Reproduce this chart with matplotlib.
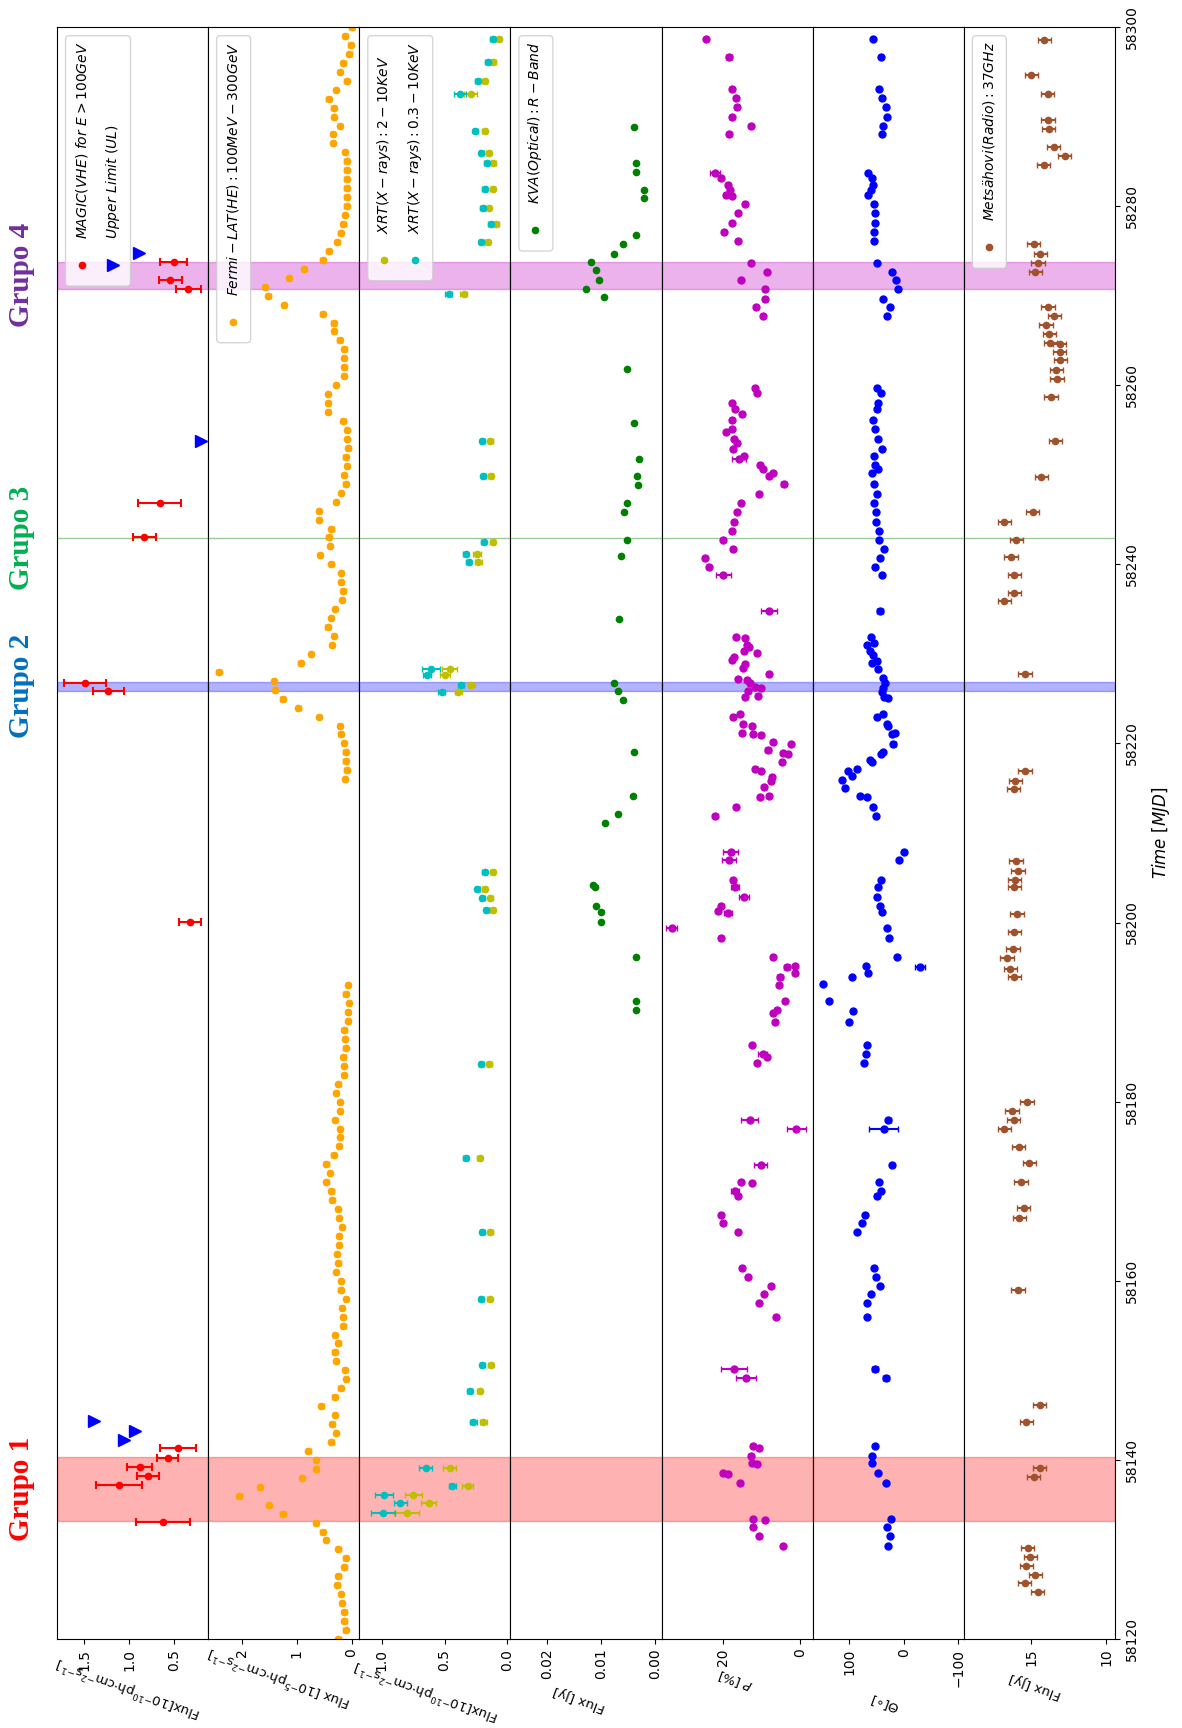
import numpy as np
import matplotlib
matplotlib.use("Agg")
import matplotlib.pyplot as plt
from matplotlib.patches import FancyBboxPatch
from matplotlib.transforms import blended_transform_factory

# ---------------- data (MJD, value) ----------------
# MAGIC VHE flux [1e-10 ph cm-2 s-1]
magic_t = [58273.8, 58271.8, 58270.8, 58246.8, 58243.0, 58226.8, 58225.9, 58200.1,
           58141.3, 58140.2, 58139.2, 58138.2, 58137.2, 58133.1]
magic_f = [0.50, 0.54, 0.34, 0.66, 0.83, 1.49, 1.23, 0.32, 0.45, 0.57, 0.88, 0.79, 1.11, 0.62]
magic_e = [0.15, 0.13, 0.14, 0.24, 0.125, 0.23, 0.17, 0.12, 0.20, 0.115, 0.14, 0.12, 0.26, 0.30]
ul_t = [58274.8, 58253.8, 58144.3, 58143.2, 58142.2]
ul_f = [0.89, 0.20, 1.385, 0.93, 1.05]

# Fermi-LAT daily flux [1e-5 ph cm-2 s-1]
fermi_t1 = np.arange(58300, 58215, -1)
fermi_f1 = [0.00, 0.12, 0.02, 0.04, 0.15, 0.21, 0.09, 0.29, 0.42, 0.33,
            0.32, 0.21, 0.34, 0.34, 0.12, 0.09, 0.09, 0.09, 0.09, 0.09,
            0.09, 0.12, 0.15, 0.20, 0.26, 0.42, 0.53, 0.87, 1.14, 1.58,
            1.52, 1.24, 0.53, 0.33, 0.32, 0.22, 0.13, 0.14, 0.13, 0.14,
            0.28, 0.43, 0.43, 0.43, 0.15, 0.08, 0.08, 0.06, 0.11, 0.08,
            0.14, 0.11, 0.19, 0.29, 0.60, 0.60, 0.37, 0.42, 0.40, 0.58,
            0.37, 0.19, 0.19, 0.15, 0.18, 0.30, 0.38, 0.44, 0.32, 0.36,
            0.74, 0.93, 2.43, 1.42, 1.40, 1.26, 0.97, 0.60, 0.21, 0.20,
            0.14, 0.11, 0.11, 0.09, 0.12]
fermi_t2 = np.arange(58193, 58119, -1)
fermi_f2 = [0.07, 0.11, 0.05, 0.07, 0.07, 0.13, 0.12, 0.11, 0.15, 0.14,
            0.14, 0.24, 0.28, 0.21, 0.21, 0.30, 0.21, 0.21, 0.23, 0.33,
            0.46, 0.40, 0.46, 0.37, 0.35, 0.25, 0.23, 0.17, 0.23, 0.23,
            0.27, 0.24, 0.28, 0.19, 0.20, 0.10, 0.17, 0.16, 0.15, 0.30,
            0.24, 0.31, 0.28, 0.12, 0.10, 0.20, 0.31, 0.55, 0.30, 0.35,
            0.29, 0.37, 0.79, 0.65, 0.65, 0.91, 1.67, 2.05, 1.51, 1.26,
            0.65, 0.53, 0.47, 0.24, 0.11, 0.13, 0.24, 0.26, 0.19, 0.17,
            0.13, 0.13, 0.11, 0.24]

# Swift-XRT flux [1e-10 ph cm-2 s-1]
xrt_t = [58298.7, 58296.1, 58294.0, 58292.5, 58288.4, 58285.9, 58284.8, 58281.9, 58279.8,
         58278.0, 58276.0, 58270.2, 58253.8, 58249.9, 58242.5, 58241.1, 58240.3, 58228.3,
         58227.6, 58226.5, 58225.8, 58205.6, 58203.8, 58202.7, 58201.4, 58184.2, 58173.7,
         58165.4, 58158.0, 58150.6, 58147.7, 58144.2, 58139.1, 58137.1, 58136.1, 58135.2,
         58134.1]
xrt_soft = [0.117, 0.157, 0.234, 0.378, 0.255, 0.209, 0.163, 0.178, 0.194, 0.132, 0.209,
            0.468, 0.20, 0.19, 0.188, 0.332, 0.308, 0.609, 0.64, 0.369, 0.523, 0.178, 0.24,
            0.20, 0.169, 0.209, 0.332, 0.20, 0.209, 0.20, 0.30, 0.27, 0.65, 0.437, 0.985,
            0.852, 0.99]
xrt_soft_e = [0.02, 0.02, 0.02, 0.05, 0.02, 0.02, 0.02, 0.02, 0.02, 0.02, 0.02,
              0.03, 0.02, 0.02, 0.02, 0.02, 0.02, 0.07, 0.03, 0.02, 0.03, 0.02, 0.02,
              0.02, 0.02, 0.02, 0.02, 0.02, 0.02, 0.02, 0.02, 0.03, 0.05, 0.03, 0.07,
              0.055, 0.095]
xrt_hard = [0.068, 0.111, 0.178, 0.292, 0.178, 0.148, 0.111, 0.117, 0.148, 0.086, 0.154,
            0.348, 0.135, 0.13, 0.117, 0.24, 0.23, 0.46, 0.50, 0.286, 0.39, 0.117, 0.178,
            0.135, 0.117, 0.142, 0.218, 0.135, 0.138, 0.13, 0.218, 0.19, 0.46, 0.317, 0.748,
            0.625, 0.80]
xrt_hard_e = [0.02, 0.02, 0.02, 0.05, 0.02, 0.02, 0.02, 0.02, 0.02, 0.02, 0.02,
              0.03, 0.02, 0.02, 0.02, 0.03, 0.03, 0.06, 0.04, 0.03, 0.03, 0.02, 0.02,
              0.02, 0.02, 0.02, 0.02, 0.02, 0.02, 0.02, 0.02, 0.03, 0.055, 0.045, 0.07,
              0.06, 0.10]

# KVA optical R-band flux [Jy]
kva_t = [58288.8, 58284.8, 58283.8, 58281.8, 58280.9, 58276.8, 58275.8, 58274.7, 58273.8,
         58272.9, 58271.8, 58270.8, 58269.9, 58261.8, 58255.8, 58251.8, 58249.9, 58248.9,
         58246.9, 58245.8, 58242.7, 58240.9, 58233.9, 58226.8, 58225.9, 58224.8, 58219.0,
         58214.1, 58212.1, 58211.1, 58204.2, 58204.0, 58201.9, 58201.2, 58200.1, 58196.2,
         58191.2, 58190.2]
kva_f = [0.0039, 0.0036, 0.0036, 0.0020, 0.0020, 0.0035, 0.0060, 0.0076, 0.0119, 0.0109,
         0.0104, 0.0127, 0.0095, 0.0051, 0.0039, 0.0030, 0.0034, 0.0032, 0.0051, 0.0058,
         0.0051, 0.0063, 0.0067, 0.0076, 0.0069, 0.0060, 0.0039, 0.0041, 0.0069, 0.0093,
         0.0114, 0.0111, 0.0109, 0.0100, 0.0100, 0.0036, 0.0036, 0.0036]

# optical polarization degree [%]
pol_t = [58298.7, 58296.7, 58293.1, 58292.1, 58291.1, 58290.0, 58289.0, 58288.1, 58283.7,
         58283.1, 58282.4, 58281.8, 58281.2, 58281.1, 58280.2, 58279.2, 58278.1, 58277.1,
         58276.1, 58273.7, 58272.6, 58271.7, 58270.7, 58269.6, 58268.7, 58267.7, 58259.7,
         58259.1, 58258.0, 58257.3, 58256.8, 58256.1, 58255.1, 58254.8, 58254.0, 58253.6,
         58252.9, 58252.1, 58251.8, 58251.1, 58250.7, 58250.2, 58249.9, 58249.0, 58247.8,
         58246.8, 58245.8, 58244.7, 58243.7, 58242.7, 58241.7, 58240.7, 58239.7, 58238.8,
         58234.8,
         58231.9, 58231.8, 58231.0, 58230.8, 58230.3, 58230.1, 58229.7, 58229.3, 58228.9,
         58228.4, 58227.8, 58227.2, 58227.1, 58226.7, 58226.3, 58226.2, 58225.9, 58225.3,
         58225.2, 58223.3, 58223.0, 58222.2, 58221.9, 58221.2, 58221.1, 58220.9, 58220.2,
         58219.9, 58219.3, 58218.9, 58218.8, 58217.9, 58217.2, 58216.9, 58216.3, 58215.8,
         58215.1, 58214.1, 58214.0, 58212.9, 58211.9,
         58207.9, 58207.0, 58204.8, 58204.0, 58202.9, 58201.9, 58201.3, 58201.1, 58199.4,
         58198.3, 58196.2, 58195.0, 58195.1, 58194.4, 58193.9, 58193.0, 58191.2, 58190.2,
         58189.9, 58188.9, 58186.3, 58185.3, 58185.0, 58184.3, 58178.0, 58177.0, 58172.9,
         58171.0, 58170.9, 58170.0, 58169.5, 58167.4, 58166.5, 58165.4, 58161.4, 58160.4,
         58159.4, 58158.5, 58157.5, 58156.0, 58150.1, 58149.1, 58141.5, 58141.3, 58140.4,
         58139.6, 58139.5, 58138.5, 58138.4, 58137.4, 58133.4, 58133.3, 58132.5, 58131.5,
         58130.4]
pol_p = [24.4, 18.5, 17.8, 16.6, 16.4, 17.8, 12.8, 18.5, 22.2,
         20.5, 18.7, 18.3, 19.4, 17.8, 14.4, 16.3, 17.8, 19.8,
         16.2, 12.9, 8.5, 15.5, 9.1, 9.2, 11.5, 9.6, 11.7,
         11.3, 17.8, 17.0, 15.1, 17.8, 17.7, 19.4, 17.1, 16.4,
         17.4, 14.5, 15.9, 10.4, 9.7, 7.0, 8.1, 4.3, 10.6,
         15.5, 16.5, 17.2, 17.8, 20.1, 17.5, 24.8, 23.7, 20.0,
         8.1,
         16.8, 14.4, 13.9, 13.3, 14.5, 11.3, 17.1, 17.8, 14.4,
         14.8, 8.1, 16.3, 13.9, 13.1, 11.7, 10.2, 13.5, 10.9,
         14.4, 15.7, 17.4, 14.8, 12.6, 15.2, 12.2, 10.2, 7.1,
         2.3, 8.3, 4.4, 3.1, 4.8, 11.7, 10.3, 7.4, 7.6,
         9.3, 8.0, 10.4, 16.8, 22.2,
         18.1, 18.5, 17.6, 17.0, 14.6, 20.5, 21.3, 18.7, 33.5,
         20.5, 7.0, 3.3, 1.3, 1.3, 5.2, 5.5, 3.9, 5.9,
         7.0, 6.5, 12.4, 9.7, 8.7, 11.1, 13.1, 1.0, 10.2,
         15.4, 12.6, 17.0, 16.1, 20.5, 20.0, 16.1, 15.2, 13.5,
         7.6, 9.4, 10.7, 6.3, 17.2, 14.1, 12.2, 10.6, 12.8,
         12.6, 11.1, 20.0, 18.7, 15.7, 12.2, 9.1, 12.2, 10.6,
         4.4]
pol_e = [0.5, 0.8, 0.5, 0.5, 0.5, 0.5, 0.5, 0.5, 1.3,
         0.5, 0.5, 0.5, 0.5, 0.5, 0.5, 0.5, 0.5, 0.5,
         0.5, 0.5, 0.5, 0.5, 0.5, 0.5, 0.5, 0.5, 0.5,
         0.5, 0.5, 0.5, 0.5, 0.5, 0.5, 0.5, 0.5, 0.5,
         0.5, 0.5, 1.8, 0.6, 0.6, 0.6, 0.6, 0.6, 0.5,
         0.5, 0.5, 0.5, 0.5, 0.5, 0.5, 0.5, 0.5, 1.9,
         2.2,
         0.5, 0.5, 0.5, 0.5, 0.5, 0.5, 0.5, 0.5, 0.5,
         0.5, 0.5, 0.5, 0.5, 0.5, 0.5, 0.5, 0.5, 0.5,
         0.5, 0.5, 0.5, 0.5, 0.5, 0.5, 0.5, 0.5, 0.5,
         0.5, 0.8, 0.5, 0.5, 0.5, 0.5, 0.5, 0.5, 0.5,
         0.5, 0.5, 0.5, 0.5, 0.5,
         1.9, 1.9, 0.5, 1.0, 1.2, 0.5, 0.5, 1.0, 1.5,
         0.5, 0.5, 0.8, 0.5, 0.5, 0.8, 0.5, 0.5, 0.5,
         0.5, 0.5, 0.5, 1.2, 0.5, 0.5, 2.2, 2.5, 1.7,
         0.5, 0.5, 1.0, 0.5, 0.5, 0.5, 0.5, 0.5, 0.5,
         0.5, 0.5, 0.5, 0.5, 3.5, 2.7, 0.5, 0.5, 0.5,
         0.5, 0.5, 0.5, 0.5, 0.5, 0.5, 0.5, 0.5, 0.5,
         0.5]

# optical polarization angle [deg]
evpa_t = [58298.7, 58296.7, 58293.1, 58292.1, 58291.1, 58290.0, 58289.0, 58288.1, 58283.7,
          58283.1, 58282.4, 58281.8, 58281.2, 58280.2, 58279.2, 58278.1, 58277.1, 58276.1,
          58273.7, 58272.6, 58271.7, 58270.7, 58269.6, 58268.7, 58267.7, 58259.7, 58259.1,
          58258.0, 58257.3, 58256.1, 58255.1, 58254.0, 58252.9, 58252.1, 58251.1, 58250.7,
          58250.2, 58249.0, 58247.8, 58246.8, 58245.8, 58244.7, 58243.7, 58242.7, 58241.7,
          58240.7, 58239.7, 58238.8, 58234.8,
          58231.9, 58231.2, 58231.0, 58230.3, 58229.9, 58229.2, 58229.0, 58228.3, 58227.3,
          58226.7, 58226.2, 58225.8, 58225.2, 58225.1, 58223.3, 58222.9, 58222.2, 58221.9,
          58221.2, 58221.1, 58219.9, 58219.0, 58218.8, 58218.2, 58217.9, 58217.2, 58216.9,
          58216.4, 58215.9, 58215.0, 58214.1, 58214.0, 58212.9, 58211.9,
          58207.9, 58207.0, 58204.8, 58204.0, 58202.9, 58201.9, 58201.2, 58199.4, 58198.3,
          58196.2, 58195.0, 58195.1, 58194.4, 58193.9, 58193.1, 58191.2, 58190.1, 58188.9,
          58186.3, 58185.3, 58184.3, 58178.0, 58177.0, 58172.9, 58171.0, 58170.0, 58169.5,
          58167.4, 58166.5, 58165.4, 58161.4, 58160.4, 58159.4, 58158.5, 58157.5, 58156.0,
          58150.1, 58149.1, 58141.5, 58140.4, 58139.6, 58138.5, 58137.4, 58133.4, 58132.5,
          58131.5, 58130.4]
evpa_th = [57.5, 42.8, 45.3, 40.4, 33.0, 31.2, 38.5, 41.0, 65.4,
           59.3, 56.9, 59.9, 65.4, 55.0, 53.2, 53.2, 54.4, 54.4,
           50.2, 22.6, 14.7, 10.4, 38.5, 25.1, 31.2, 50.2, 42.2,
           47.1, 50.2, 56.3, 53.2, 48.3, 41.0, 54.4, 53.2, 47.0,
           58.1, 55.7, 50.2, 54.4, 52.0, 50.8, 45.3, 45.9, 36.7,
           44.6, 52.6, 41.0, 44.0,
           61.2, 54.4, 68.5, 62.4, 56.3, 50.2, 58.1, 48.3, 37.9,
           34.9, 37.9, 41.0, 36.1, 29.0, 37.9, 50.2, 31.8, 28.7,
           16.5, 22.6, 19.6, 37.9, 42.2, 62.4, 58.1, 86.9, 102.0,
           96.0, 114.0, 109.0, 80.7, 68.5, 57.5, 51.4,
           -0.6, 9.2, 42.8, 47.1, 50.2, 44.0, 41.0, 30.6, 27.5,
           12.8, -29.4, 70.3, 65.4, 96.0, 148.0, 137.0, 93.0, 100.0,
           67.3, 69.7, 72.8, 28.7, 37.3, 22.0, 45.9, 42.8, 50.2,
           71.6, 77.7, 86.9, 55.0, 52.0, 44.0, 61.2, 67.3, 67.9,
           53.2, 33.0, 53.2, 59.3, 58.1, 48.3, 33.0, 23.9, 31.8,
           25.1, 28.7]
evpa_e = [2, 2, 2, 2, 2, 2, 2, 2, 2,
          2, 2, 2, 2, 2, 2, 2, 2, 2,
          2, 2, 2, 2, 2, 2, 2, 2, 2,
          2, 2, 2, 2, 2, 2, 2, 2, 2,
          2, 2, 2, 2, 2, 2, 2, 2, 2,
          2, 2, 2, 6,
          2, 2, 2, 2, 2, 2, 2, 2, 2,
          2, 2, 2, 3, 2, 2, 2, 2, 2,
          2, 3, 5, 2, 2, 2, 2, 2, 2,
          2, 2, 2, 2, 2, 2, 2,
          3, 2, 2, 2, 2, 2, 2, 2, 2,
          2, 9, 2, 2, 2, 3, 2, 2, 2,
          2, 2, 2, 5, 27, 4, 2, 2, 2,
          2, 2, 2, 2, 2, 2, 2, 2, 2,
          5, 5, 2, 2, 2, 2, 2, 2, 2,
          2, 2]

# Metsahovi 37 GHz flux [Jy]
radio_t = [58298.6, 58294.6, 58292.5, 58289.6, 58288.6, 58286.6, 58285.6, 58284.6, 58275.8,
           58274.7, 58273.6, 58272.6, 58268.7, 58267.7, 58266.7, 58265.7, 58264.7, 58264.6,
           58263.7, 58262.8, 58261.7, 58260.7, 58258.7, 58253.8, 58249.8, 58245.8, 58244.7,
           58242.7, 58240.8, 58238.8, 58236.8, 58235.9, 58227.8, 58216.9, 58215.8, 58214.9,
           58206.9, 58205.8, 58204.8, 58204.0, 58201.0, 58198.9, 58197.0, 58196.0, 58194.8,
           58193.9, 58180.0, 58179.0, 58178.0, 58177.0, 58174.9, 58173.1, 58171.0, 58168.1,
           58167.0, 58159.0, 58146.1, 58144.2, 58139.1, 58138.1, 58130.2, 58129.2, 58128.2,
           58127.2, 58126.2, 58125.2]
radio_f = [14.13, 15.00, 13.91, 13.89, 13.84, 13.51, 12.78, 14.18, 14.84,
           14.40, 14.56, 14.73, 13.89, 13.47, 14.02, 13.80, 13.73, 13.11,
           13.11, 13.07, 13.33, 13.29, 13.69, 13.40, 14.33, 14.91, 16.80,
           16.00, 16.36, 16.13, 16.13, 16.80, 15.42, 15.42, 16.07, 16.18,
           16.02, 15.89, 16.11, 16.13, 15.96, 16.13, 16.22, 16.62, 16.40,
           16.13, 15.29, 16.29, 16.18, 16.80, 15.84, 15.13, 15.69, 15.51,
           15.80, 15.89, 14.44, 15.33, 14.44, 14.84, 15.24, 15.07, 15.33,
           14.73, 15.44, 14.58]

# flare groups
group_names = ["Grupo 1", "Grupo 2", "Grupo 3", "Grupo 4"]
group_colors = ["#ff0000", "#0070c0", "#00b050", "#7030a0"]
group_spans = [(58133.2, 58140.3), (58225.9, 58226.9), (58242.9, 58242.9), (58270.8, 58273.8)]
span_colors = ["r", "b", "g", "m"]

# ---------------- figure ----------------
W_PX, H_PX = 1182, 1728
fig = plt.figure(figsize=(W_PX / 100, H_PX / 100), dpi=100)

left, bottom = 57 / W_PX, 89 / H_PX
pw, ph = 151.14 / W_PX, 1612 / H_PX
axes = [fig.add_axes([left + i * pw, bottom, pw, ph]) for i in range(7)]

xlims = [(1.80, 0.12), (2.62, -0.14), (1.18, -0.025), (0.0267, -0.0012),
         (36.1, -3.3), (167.5, -110), (19.5, 9.42)]
xticks = [[1.5, 1.0, 0.5], [2, 1, 0], [1.0, 0.5, 0.0], [0.02, 0.01, 0.00],
          [20, 0], [100, 0, -100], [15, 10]]
tick_fmt = ["{:.1f}", "{:.0f}", "{:.1f}", "{:.2f}", "{:.0f}", "{:.0f}", "{:.0f}"]
xlabels = [r"Flux[$10^{-10}$ph$\cdot$cm$^{-2}$s$^{-1}$]",
           r"Flux [$10^{-5}$ph$\cdot$cm$^{-2}$s$^{-1}$]",
           r"Flux[$10^{-10}$ph$\cdot$cm$^{-2}$s$^{-1}$]",
           "Flux [Jy]", r"$P$ [%]", r"$\Theta[\circ]$", "Flux [Jy]"]
label_y = [-0.0300, -0.0230, -0.0315, -0.0370, -0.0254, -0.0395, -0.0292]
label_x = [0.476, 0.476, 0.448, 0.453, 0.487, 0.48, 0.474]

for i, ax in enumerate(axes):
    ax.set_ylim(58120, 58300)
    ax.set_xlim(*xlims[i])
    ax.set_xticks(xticks[i])
    ax.set_xticklabels([tick_fmt[i].format(v).replace("-", "\u2212") for v in xticks[i]])
    ax.tick_params(axis="x", labelrotation=90, labelsize=10)
    ax.tick_params(axis="y", left=False, labelleft=False)
    ax.set_xlabel(xlabels[i], rotation=160, fontsize=9.5)
    ax.xaxis.label.set_va("center")
    ax.xaxis.set_label_coords(label_x[i], label_y[i])
    for (a, b), c in zip(group_spans, span_colors):
        if a == b:
            ax.axhline(a, color=c, alpha=0.4, lw=1)
        else:
            ax.axhspan(a, b, color=c, alpha=0.3)

ax7 = axes[-1]
ax7.yaxis.tick_right()
ax7.tick_params(axis="y", right=True, labelright=True, labelrotation=90, labelsize=10)
ax7.set_yticks([58120, 58140, 58160, 58180, 58200, 58220, 58240, 58260, 58280, 58300])
for lbl in ax7.get_yticklabels():
    lbl.set_va("center")
ax7.yaxis.set_label_position("right")
ax7.set_ylabel(r"$Time\ [MJD]$", rotation=90, fontsize=12, labelpad=8)

# MAGIC
axes[0].errorbar(magic_f, magic_t, xerr=magic_e, fmt="o", color="red", ms=4.5,
                 capsize=3, elinewidth=1.5, capthick=1.5)
axes[0].plot(ul_f, ul_t, ">", color="blue", ms=8)
# Fermi
for tt, ff in [(fermi_t1, fermi_f1), (fermi_t2, fermi_f2)]:
    axes[1].errorbar(ff, tt, xerr=0.04, fmt="o", color="orange", ms=4.5, capsize=2)
# XRT
axes[2].errorbar(xrt_hard, xrt_t, xerr=xrt_hard_e, fmt="o", color="y", ms=4.5, capsize=2)
axes[2].errorbar(xrt_soft, xrt_t, xerr=xrt_soft_e, fmt="o", color="c", ms=4.5, capsize=2)
# KVA
axes[3].plot(kva_f, kva_t, "o", color="g", ms=4.5)
# polarization
axes[4].errorbar(pol_p, pol_t, xerr=pol_e, fmt="o", color="m", ms=5, capsize=2)
axes[5].errorbar(evpa_th, evpa_t, xerr=evpa_e, fmt="o", color="b", ms=5, capsize=2)
# radio
axes[6].errorbar(radio_f, radio_t, xerr=0.45, fmt="o", color="sienna", ms=4.5, capsize=2.5)

# group names above the top panel (left side after rotation)
tr = blended_transform_factory(axes[0].transAxes, axes[0].transData)
for name, col, (a, b) in zip(group_names, group_colors, group_spans):
    axes[0].text(-0.232, (a + b) / 2, name, transform=tr, rotation=90, color=col,
                 fontsize=21, fontweight="bold", family="Liberation Serif",
                 ha="center", va="center", clip_on=False)


# ---------------- rotated legends ----------------
def rotated_legend(ax, entries):
    renderer = fig.canvas.get_renderer()
    pos = ax.get_position()
    aw, ah = pos.width * W_PX, pos.height * H_PX
    top, lft = 8.7, 8.5
    texts = [ax.text(0, 0, lab, rotation=90, ha="center", va="bottom", fontsize=10,
                     transform=ax.transAxes, zorder=6) for lab, _, _, _ in entries]
    longest = max(t.get_window_extent(renderer).height for t in texts)
    start = top + 6 + longest
    mark_y = start + 26
    box_h = mark_y + 21 - top
    box_w = 34 + 31 * (len(entries) - 1)
    box = FancyBboxPatch((lft / aw, 1 - (top + box_h) / ah), box_w / aw, box_h / ah,
                         boxstyle="round,pad=0,rounding_size=0.025", mutation_aspect=aw / ah,
                         transform=ax.transAxes, facecolor="white", edgecolor="0.8",
                         alpha=0.8, zorder=5, lw=1)
    ax.add_patch(box)
    for j, (t, (lab, mk, col, ms)) in enumerate(zip(texts, entries)):
        x = (lft + 16.5 + 31 * j) / aw
        t.set_position((x, 1 - start / ah))
        ax.plot([x], [1 - mark_y / ah], mk, color=col, ms=ms, transform=ax.transAxes,
                zorder=6, clip_on=False)


rotated_legend(axes[0], [(r"$MAGIC(VHE)\ for\ E>100GeV$", "o", "red", 4.5),
                         (r"$Upper\ Limit\ (UL)$", ">", "blue", 8)])
rotated_legend(axes[1], [(r"$Fermi-LAT(HE):100MeV-300GeV$", "o", "orange", 4.5)])
rotated_legend(axes[2], [(r"$XRT(X-rays):2-10KeV$", "o", "y", 4.5),
                         (r"$XRT(X-rays):0.3-10KeV$", "o", "c", 4.5)])
rotated_legend(axes[3], [(r"$KVA(Optical):R-Band$", "o", "g", 4.5)])
rotated_legend(axes[6], [(r"$Metsähovi(Radio):37GHz$", "o", "sienna", 4.5)])

fig.savefig("out.png", dpi=100)
